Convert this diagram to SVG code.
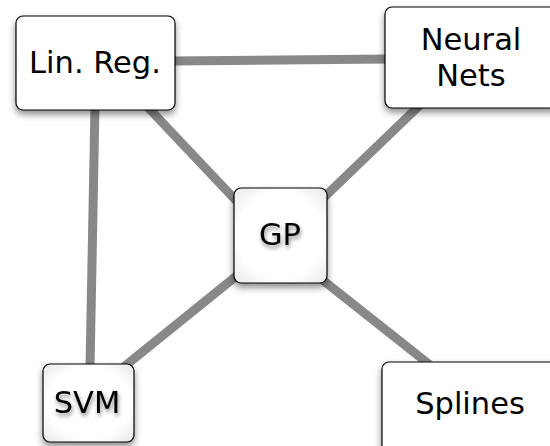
<svg xmlns="http://www.w3.org/2000/svg" width="550" height="446" viewBox="0 0 550 446">
<style>
.edge{stroke:#888888;stroke-width:9;stroke-linecap:butt;fill:none}
.box{fill:#ffffff;stroke:#000000;stroke-width:1.2}
.soft{fill:url(#vign);stroke:#000000;stroke-width:1.2}
.lbl{font-family:"DejaVu Sans","Liberation Sans",sans-serif;font-size:30.5px;fill:#000000;text-anchor:middle}
</style>
<defs>
<filter id="shadow" x="-20%" y="-20%" width="140%" height="150%">
<feDropShadow dx="0" dy="4" stdDeviation="3.5" flood-color="#000000" flood-opacity="0.45"/>
</filter>
<filter id="tshadow" x="-20%" y="-30%" width="140%" height="170%">
<feDropShadow dx="1" dy="3" stdDeviation="2" flood-color="#000000" flood-opacity="0.45"/>
</filter>
<radialGradient id="vign" cx="50%" cy="50%" r="65%">
<stop offset="0.7" stop-color="#ffffff"/>
<stop offset="1" stop-color="#ececec"/>
</radialGradient>
</defs>
<g id="connectors">
<line class="edge" x1="170" y1="61" x2="390" y2="59"/>
<line class="edge" x1="95" y1="105" x2="90" y2="368"/>
<line class="edge" x1="140" y1="99" x2="245" y2="210"/>
<line class="edge" x1="420" y1="105" x2="315" y2="206"/>
<line class="edge" x1="250" y1="265" x2="120" y2="370"/>
<line class="edge" x1="310" y1="270" x2="430" y2="365"/>
</g>
<g id="linreg">
<rect class="box" x="16" y="16" width="159" height="94" rx="7" filter="url(#shadow)"/>
<text class="lbl" x="95" y="73">Lin. Reg.</text>
</g>
<g id="neuralnets">
<rect class="box" x="385" y="7" width="175" height="101" rx="7" filter="url(#shadow)"/>
<text class="lbl" x="471" y="50">Neural</text>
<text class="lbl" x="471" y="86">Nets</text>
</g>
<g id="gp">
<rect class="soft" x="234" y="188" width="93" height="95" rx="7" filter="url(#shadow)"/>
<text class="lbl" x="280" y="245" filter="url(#tshadow)">GP</text>
</g>
<g id="svm">
<rect class="soft" x="43" y="364" width="91" height="78" rx="7" filter="url(#shadow)"/>
<text class="lbl" x="87" y="413" filter="url(#tshadow)">SVM</text>
</g>
<g id="splines">
<rect class="box" x="382" y="362" width="180" height="100" rx="7" filter="url(#shadow)"/>
<text class="lbl" x="470" y="414">Splines</text>
</g>
</svg>
